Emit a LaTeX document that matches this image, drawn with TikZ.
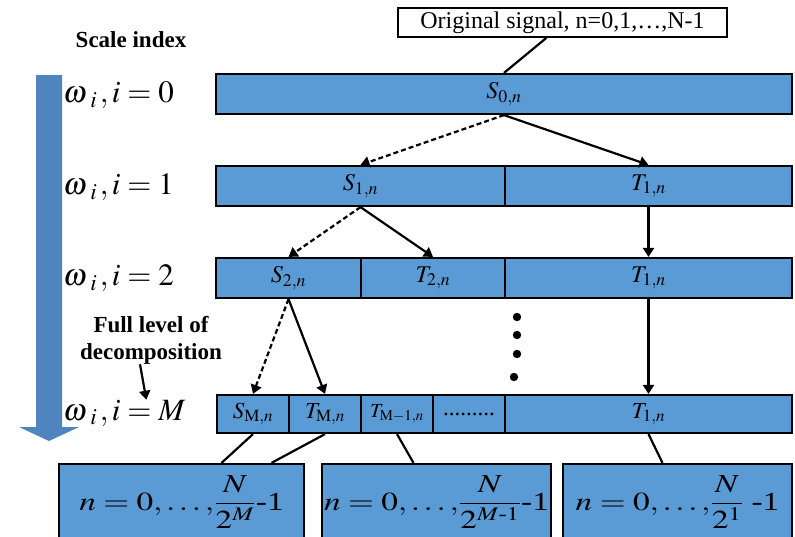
\documentclass[tikz,border=0pt]{standalone}
\usepackage{amsmath}
\usepackage{mathptmx}
\usepackage{fontspec}
\setmainfont{Liberation Serif}
\usetikzlibrary{arrows.meta,positioning,calc}
\definecolor{BarBlue}{HTML}{5B9BD5}
\definecolor{ScaleBlue}{HTML}{4F84BE}
\newcommand{\widerange}[1]{\raisebox{2pt}{\scalebox{1.28}[1]{#1}}}

\begin{document}
\begin{tikzpicture}[x=1pt,y=-1pt,
    seg/.style={draw,line width=2.2pt,fill=BarBlue,inner sep=0pt,minimum height=40pt,font=\fontsize{24}{28}\selectfont},
    segM/.style={seg,minimum height=38pt,minimum width=72pt,font=\fontsize{23}{26}\selectfont},
    rangebox/.style={draw,line width=2.2pt,fill=BarBlue,inner sep=0pt,minimum height=76pt,font=\fontsize{26}{30}\selectfont},
    scalelab/.style={anchor=west,inner sep=0pt,font=\fontsize{31}{34}\selectfont},
    note/.style={align=center,inner sep=0pt,font=\fontsize{23}{27}\selectfont\bfseries},
    tarrow/.style={-{Triangle[length=9pt,width=11pt]},line width=2.2pt},
    sarrow/.style={tarrow,dash pattern=on 5pt off 3pt},
    link/.style={line width=2.2pt}]
        \useasboundingbox (0,0) rectangle (795,536);
        \clip (0,0) rectangle (795,536);
        \fill[ScaleBlue] (36,75) -- (62,75) -- (62,427) -- (79,427) -- (49,441) -- (19,427) -- (36,427) -- cycle;
        \node[draw,line width=1.6pt,fill=white,minimum width=329pt,minimum height=29pt,inner sep=0pt,font=\fontsize{24}{28}\selectfont] (orig) at (562.5,22.5) {Original signal, n=0,1,…,N-1};
        \node[note] (scale) at (131,40) {Scale index};
        \node[scalelab] (w0) at (63,95) {$\omega\,{}_{i\,},i=0$};
        \node[scalelab] (w1) at (63,187) {$\omega\,{}_{i\,},i=1$};
        \node[scalelab] (w2) at (63,278) {$\omega\,{}_{i\,},i=2$};
        \node[scalelab] (wM) at (63,413) {$\omega\,{}_{i\,},i=M$};
        \node[note] (full) at (151,340) {Full level of\\decomposition};
        \node[seg,minimum width=576pt] (s0) at (504,94) {$S_{0,n}$};
        \node[seg,minimum width=289pt] (s1) at (360.5,186) {$S_{1,n}$};
        \node[seg,minimum width=287pt] (t1) at (648.5,186) {$T_{1,n}$};
        \node[seg,minimum width=145pt] (s2) at (288.5,278) {$S_{2,n}$};
        \node[seg,minimum width=144pt] (t2) at (433,278) {$T_{2,n}$};
        \node[seg,minimum width=287pt] (t1b) at (648.5,278) {$T_{1,n}$};
        \node[segM] (sM) at (253,414) {$S_{\mathrm{M},n}$};
        \node[segM] (tM) at (325,414) {$T_{\mathrm{M},n}$};
        \node[segM,font=\fontsize{20}{24}\selectfont] (tMa) at (397,414) {$T_{\mathrm{M}-1,n}$};
        \node[segM] (more) at (469,414) {.........};
        \node[segM,minimum width=287pt] (t1c) at (648.5,414) {$T_{1,n}$};
        \node[rangebox,minimum width=245pt] (b1) at (181.5,502) {\widerange{$n=0{,}\ldots{,}\dfrac{N}{2^{M}}$-1}};
        \node[rangebox,minimum width=229pt] (b2) at (436.5,502) {\widerange{$n=0{,}\ldots{,}\dfrac{N}{2^{M\text{-}1}}$-1}};
        \node[rangebox,minimum width=229pt] (b3) at (677.5,502) {\widerange{$n=0{,}\ldots{,}\dfrac{N}{2^{1}}$ -1}};
        \foreach \y in {317,335,354} \fill (517,\y) circle (4.2pt);
        \fill (514,377) circle (4.2pt);
        \draw[link] ([xshift=-16pt]orig.south) -- (s0.north);
        \draw[sarrow] (s0.south) -- (s1.north);
        \draw[tarrow] (s0.south) -- (t1.north);
        \draw[sarrow] (s1.south) -- (s2.north);
        \draw[tarrow] (s1.south) -- (t2.north);
        \draw[tarrow] (t1.south) -- (t1b.north);
        \draw[sarrow] (s2.south) -- (sM.north);
        \draw[tarrow] (s2.south) -- (tM.north);
        \draw[tarrow] (t1b.south) -- (t1c.north);
        \draw[link] (sM.south) -- ([xshift=40pt]b1.north);
        \draw[link] (tM.south) -- ([xshift=90pt]b1.north);
        \draw[link] (tMa.south) -- ([xshift=-23pt]b2.north);
        \draw[link] (t1c.south) -- ([xshift=-15pt]b3.north);
        \draw[tarrow] ([xshift=-11pt]full.south) -- ([xshift=22pt]wM.north);
      \end{tikzpicture}
\end{document}
